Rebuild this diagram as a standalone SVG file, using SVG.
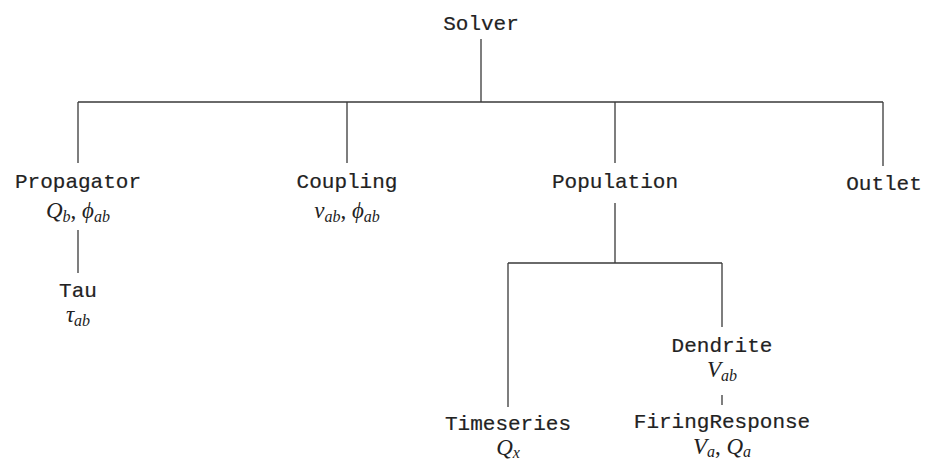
<svg xmlns="http://www.w3.org/2000/svg" width="930" height="462" viewBox="0 0 930 462">
<style>
.bg{fill:#fff}
.lbl{font-family:"Liberation Mono","DejaVu Sans Mono",monospace;font-size:21px;fill:#222;stroke:#222;stroke-width:0.2;text-anchor:middle}
.m{font-family:"Liberation Serif","DejaVu Serif",serif;font-style:italic;font-size:23px;fill:#222;text-anchor:middle}
.s{font-size:16px}
.u{font-style:normal}
.e{fill:none;stroke:#3a3a3a;stroke-width:1.3}
</style>
<rect class="bg" x="0" y="0" width="930" height="462"/>
<g id="connectors">
<path class="e" d="M481 39 V102 M78 102 H883 M78 102 V163 M347 102 V163 M615 102 V163 M883 102 V166"/>
<path class="e" d="M78 230 V273"/>
<path class="e" d="M615 203 V263 M508 263 H722 M508 263 V407 M722 263 V327"/>
<path class="e" d="M722 395 V405"/>
</g>
<g id="solver"><text class="lbl" x="481" y="30">Solver</text></g>
<g id="propagator"><text class="lbl" x="78" y="188">Propagator</text>
<text class="m" x="78" y="218">Q<tspan class="s" dy="4">b</tspan><tspan class="u" dy="-4">, </tspan>ϕ<tspan class="s" dy="4">ab</tspan></text></g>
<g id="coupling"><text class="lbl" x="347" y="188">Coupling</text>
<text class="m" x="347" y="218">ν<tspan class="s" dy="4">ab</tspan><tspan class="u" dy="-4">, </tspan>ϕ<tspan class="s" dy="4">ab</tspan></text></g>
<g id="population"><text class="lbl" x="615" y="188">Population</text></g>
<g id="outlet"><text class="lbl" x="884" y="190">Outlet</text></g>
<g id="tau"><text class="lbl" x="78" y="297">Tau</text>
<text class="m" x="78" y="322">τ<tspan class="s" dy="4">ab</tspan></text></g>
<g id="timeseries"><text class="lbl" x="508" y="430">Timeseries</text>
<text class="m" x="508" y="455">Q<tspan class="s" dy="3">x</tspan></text></g>
<g id="dendrite"><text class="lbl" x="722" y="352">Dendrite</text>
<text class="m" x="722" y="377">V<tspan class="s" dy="4">ab</tspan></text></g>
<g id="firingresponse"><text class="lbl" x="722" y="428">FiringResponse</text>
<text class="m" x="722" y="454">V<tspan class="s" dy="3">a</tspan><tspan class="u" dy="-3">, </tspan>Q<tspan class="s" dy="3">a</tspan></text></g>
</svg>
